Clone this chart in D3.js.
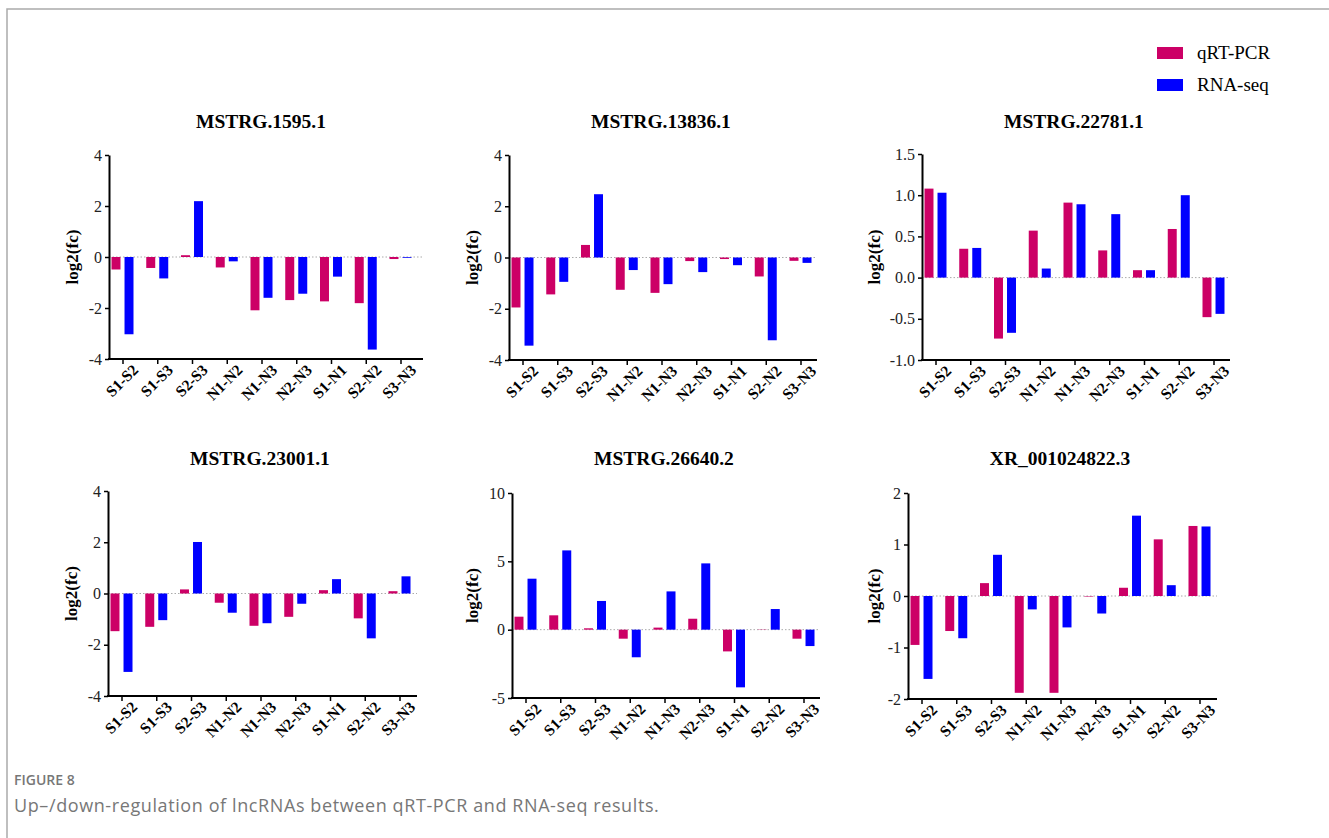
<!DOCTYPE html>
<html>
  <head>
    <title>Figure 8</title>
    <script src="https://d3js.org/d3.v7.min.js"></script>
    <style>
      body, html {
        margin: 0;
        padding: 0;
        background: #fff;
        overflow: hidden;
      }
      .panelTitle {
        font-family: 'Liberation Serif', 'Times New Roman', serif;
        font-weight: bold;
        font-size: 19.5px;
        text-anchor: middle;
      }
      .axisTitle {
        font-family: 'Liberation Serif', 'Times New Roman', serif;
        font-weight: bold;
        font-size: 17px;
        text-anchor: middle;
      }
      .yAxis text {
        font-family: 'Liberation Serif', 'Times New Roman', serif;
        font-size: 16px;
        fill: #222;
      }
      .xAxis text {
        font-family: 'Liberation Serif', 'Times New Roman', serif;
        font-weight: bold;
        font-size: 15.5px;
        fill: #000;
      }
      .legendText {
        font-family: 'Liberation Serif', 'Times New Roman', serif;
        font-size: 19px;
      }
    </style>
  </head>
  <body>
    <svg id="canvasArea" width="1329" height="838"></svg>
    <script>
      // comparison groups on the x axis
      const categories = ["S1-S2", "S1-S3", "S2-S3", "N1-N2", "N1-N3", "N2-N3", "S1-N1", "S2-N2", "S3-N3"];
      const seriesNames = ["qRT-PCR", "RNA-seq"];
      const seriesColors = ["#CC0066", "#0000FF"];

      const panelTitles = ["MSTRG.1595.1", "MSTRG.13836.1", "MSTRG.22781.1",
                           "MSTRG.23001.1", "MSTRG.26640.2", "XR_001024822.3"];

      // log2(fc) values
      const qpcr1595   = [-0.49, -0.43, 0.07, -0.41, -2.09, -1.69, -1.74, -1.81, -0.08];
      const rnaseq1595 = [-3.03, -0.84, 2.19, -0.17, -1.60, -1.44, -0.77, -3.63, -0.03];

      const qpcr13836   = [-1.95, -1.44, 0.49, -1.26, -1.38, -0.14, -0.06, -0.74, -0.13];
      const rnaseq13836 = [-3.44, -0.95, 2.47, -0.49, -1.04, -0.57, -0.30, -3.23, -0.21];

      const qpcr22781   = [1.08, 0.35, -0.74, 0.57, 0.91, 0.33, 0.09, 0.59, -0.48];
      const rnaseq22781 = [1.03, 0.36, -0.67, 0.11, 0.89, 0.77, 0.09, 1.00, -0.44];

      const qpcr23001   = [-1.47, -1.30, 0.16, -0.36, -1.26, -0.91, 0.13, -0.97, 0.09];
      const rnaseq23001 = [-3.06, -1.04, 2.01, -0.75, -1.16, -0.40, 0.56, -1.75, 0.67];

      const qpcr26640   = [0.95, 1.05, 0.10, -0.66, 0.15, 0.80, -1.59, -0.02, -0.66];
      const rnaseq26640 = [3.73, 5.80, 2.10, -2.02, 2.80, 4.85, -4.22, 1.51, -1.20];

      const qpcrXR   = [-0.95, -0.68, 0.25, -1.88, -1.88, -0.01, 0.16, 1.10, 1.36];
      const rnaseqXR = [-1.61, -0.82, 0.80, -0.26, -0.61, -0.34, 1.56, 0.21, 1.35];

      const yDomains = [[-4, 4], [-4, 4], [-1, 1.5], [-4, 4], [-5, 10], [-2, 2]];
      const yTickValues = [
        [-4, -2, 0, 2, 4],
        [-4, -2, 0, 2, 4],
        [-1.0, -0.5, 0.0, 0.5, 1.0, 1.5],
        [-4, -2, 0, 2, 4],
        [-5, 0, 5, 10],
        [-2, -1, 0, 1, 2]
      ];
      const yDecimals = [0, 0, 1, 0, 0, 0];

      const panelValues = [
        [qpcr1595, rnaseq1595],
        [qpcr13836, rnaseq13836],
        [qpcr22781, rnaseq22781],
        [qpcr23001, rnaseq23001],
        [qpcr26640, rnaseq26640],
        [qpcrXR, rnaseqXR]
      ];

      // panel frames: y axis position, plot top / bottom, right end, y-title offset
      const layout = [
        {axX: 109, top: 155, bottom: 359, right: 423, titleY: 128, labelOff: 37},
        {axX: 509, top: 155, bottom: 360, right: 817, titleY: 128, labelOff: 37},
        {axX: 922, top: 154, bottom: 360, right: 1230, titleY: 128, labelOff: 48},
        {axX: 108, top: 491, bottom: 696, right: 417, titleY: 465, labelOff: 37},
        {axX: 512, top: 493, bottom: 698, right: 820, titleY: 465, labelOff: 40},
        {axX: 908, top: 493, bottom: 699, right: 1217, titleY: 465, labelOff: 34}
      ];

      const svg = d3.select("#canvasArea");
      svg.append("rect").attr("width", 1329).attr("height", 838).attr("fill", "#fff");

      // page frame
      svg.append("path")
        .attr("d", "M7,838 L7,9 L1329,9")
        .attr("fill", "none")
        .attr("stroke", "#aaa")
        .attr("stroke-width", 1.5);

      function drawPanel(i) {
        const L = layout[i];
        const g = svg.append("g");

        const y = d3.scaleLinear().domain(yDomains[i]).range([L.bottom, L.top]);
        const x = d3.scalePoint().domain(categories).range([L.axX + 13.5, L.axX + 13.5 + 8 * 34.75]);
        const xSub = d3.scaleBand().domain(seriesNames).range([-11, 11]).paddingInner(0.31);

        // dotted zero line
        g.append("line")
          .attr("x1", L.axX).attr("x2", L.right)
          .attr("y1", y(0)).attr("y2", y(0))
          .attr("stroke", "#aaa")
          .attr("stroke-width", 1)
          .attr("stroke-dasharray", "1.5,2");

        // bars
        seriesNames.forEach((s, k) => {
          const vals = panelValues[i][k];
          g.selectAll(null)
            .data(categories.map((c, j) => ({cat: c, v: vals[j]})))
            .enter()
            .append("rect")
            .attr("x", d => x(d.cat) + xSub(s))
            .attr("width", xSub.bandwidth())
            .attr("y", d => y(Math.max(0, d.v)))
            .attr("height", d => Math.abs(y(d.v) - y(0)))
            .attr("fill", seriesColors[k]);
        });

        // y axis
        const fmt = d => d.toFixed(yDecimals[i]);
        const yAxis = g.append("g")
          .attr("class", "yAxis")
          .attr("transform", `translate(${L.axX},0)`)
          .call(d3.axisLeft(y).tickValues(yTickValues[i]).tickFormat(fmt).tickSize(4).tickSizeOuter(0).tickPadding(3));
        yAxis.select(".domain").attr("stroke-width", 2);
        yAxis.selectAll(".tick line").attr("stroke-width", 1.5);

        // x axis
        const xAxis = g.append("g")
          .attr("class", "xAxis")
          .attr("transform", `translate(0,${L.bottom})`)
          .call(d3.axisBottom(x).tickSize(5).tickSizeOuter(0));
        xAxis.select(".domain").remove();
        xAxis.selectAll(".tick line").attr("stroke-width", 1.5);
        xAxis.selectAll(".tick text")
          .attr("text-anchor", "end")
          .attr("x", 3)
          .attr("y", 9)
          .attr("dy", "0.7em")
          .attr("transform", "rotate(-45)");
        g.append("line")
          .attr("x1", L.axX - 1).attr("x2", L.right)
          .attr("y1", L.bottom).attr("y2", L.bottom)
          .attr("stroke", "#000")
          .attr("stroke-width", 2);

        // titles
        g.append("text")
          .attr("class", "panelTitle")
          .attr("x", L.axX + 152)
          .attr("y", L.titleY)
          .text(panelTitles[i]);

        g.append("text")
          .attr("class", "axisTitle")
          .attr("transform", `translate(${L.axX - L.labelOff},${(L.top + L.bottom) / 2}) rotate(-90)`)
          .attr("dy", "0.35em")
          .text("log2(fc)");
      }

      d3.range(6).forEach(drawPanel);

      // legend
      const legend = svg.append("g").attr("transform", "translate(1157,47)");
      seriesNames.forEach((s, k) => {
        legend.append("rect")
          .attr("x", 0).attr("y", k * 32)
          .attr("width", 26).attr("height", 12)
          .attr("fill", seriesColors[k]);
        legend.append("text")
          .attr("class", "legendText")
          .attr("x", 40).attr("y", k * 32 + 12)
          .text(s);
      });

      // caption
      svg.append("text")
        .attr("x", 14).attr("y", 785)
        .attr("font-family", "'Open Sans', 'Noto Sans', sans-serif")
        .attr("font-weight", 600)
        .attr("font-size", 14)
        .attr("fill", "#777")
        .text("FIGURE 8");
      svg.append("text")
        .attr("x", 14).attr("y", 812)
        .attr("font-family", "'Open Sans', 'Noto Sans', sans-serif")
        .attr("font-size", 18)
        .attr("letter-spacing", 0.6)
        .attr("fill", "#777")
        .text("Up\u2013/down-regulation of lncRNAs between qRT-PCR and RNA-seq results.");
    </script>
  </body>
</html>
